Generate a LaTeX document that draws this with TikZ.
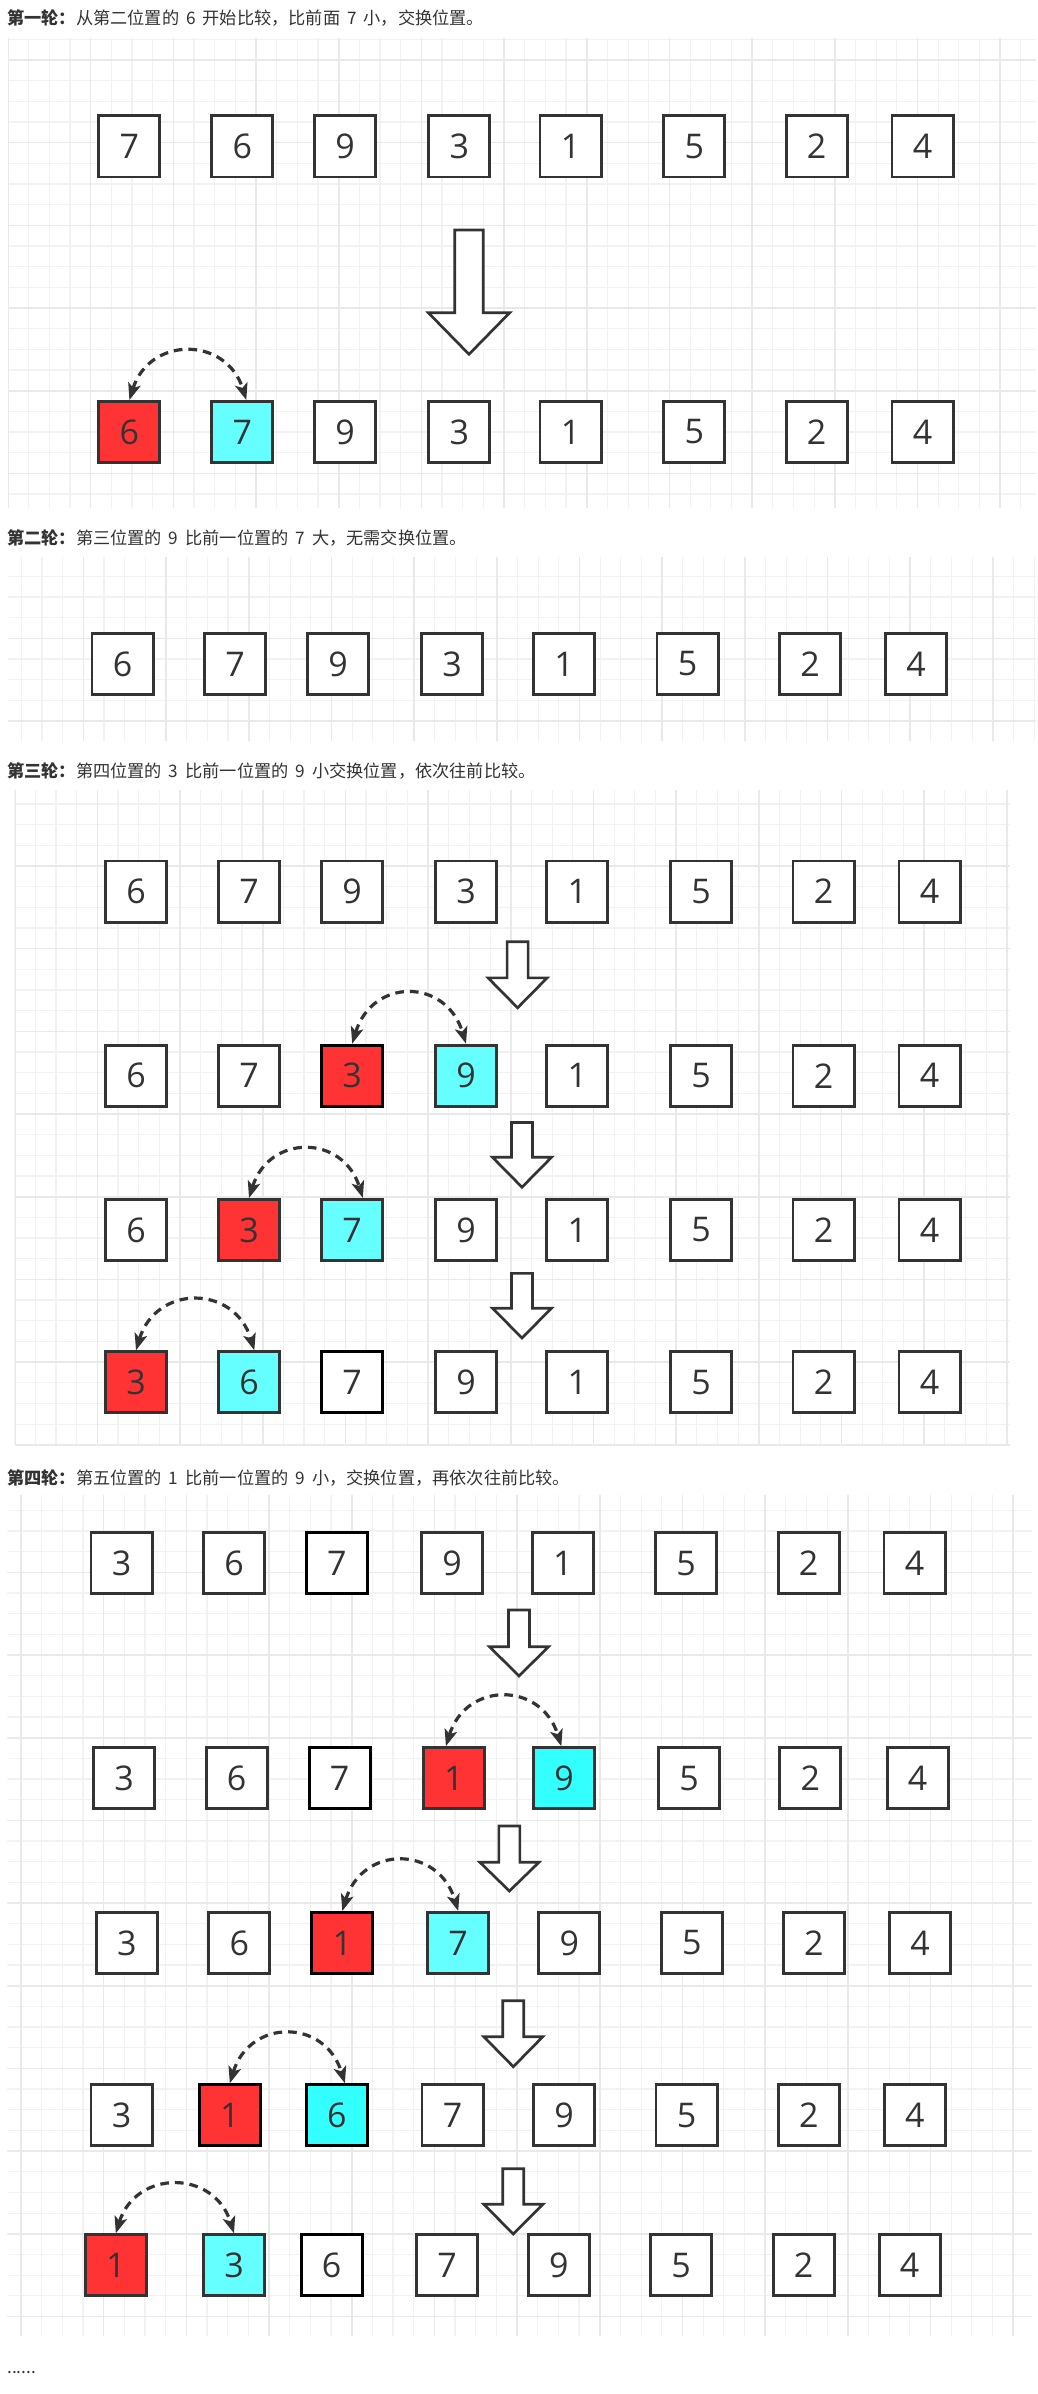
\documentclass[tikz,border=0pt]{standalone}
\usepackage{fontspec}
\setmainfont{Noto Sans CJK SC}
\newfontfamily\digitfont{Open Sans}
\usetikzlibrary{arrows.meta}
\definecolor{ink}{HTML}{333333}
\definecolor{boxred}{HTML}{FF3333}
\definecolor{boxcyan}{HTML}{66FFFF}
\definecolor{boxcyanb}{HTML}{33FFFF}
\definecolor{gridminor}{HTML}{F2F2F2}
\definecolor{gridmajor}{HTML}{E9E9E9}
\newcommand\gap{\hspace{5.2pt}}
% grid panel: x0 y0 x1 y1 major-x major-y
\newcommand\gridpanel[6]{%
  \begin{scope}
    \clip (#1,#2) rectangle (#3,#4);
    \foreach \k in {0,...,62}{
      \draw[gridminor, line width=0.9pt] ({#5-165.36+\k*20.67},#2) -- ({#5-165.36+\k*20.67},#4);
      \draw[gridminor, line width=0.9pt] (#1,{#6-165.36+\k*20.67}) -- (#3,{#6-165.36+\k*20.67});
    }
    \foreach \k in {0,...,15}{
      \draw[gridmajor, line width=1.2pt] ({#5-165.36+\k*82.68},#2) -- ({#5-165.36+\k*82.68},#4);
      \draw[gridmajor, line width=1.2pt] (#1,{#6-165.36+\k*82.68}) -- (#3,{#6-165.36+\k*82.68});
    }
  \end{scope}}
% block arrow: x top neck tip shafthalf headhalf
\newcommand\blockarrow[6]{%
  \draw[bigarrow] ({#1-#5},#2) -- ({#1+#5},#2) -- ({#1+#5},#3) -- ({#1+#6},#3)
    -- (#1,#4) -- ({#1-#6},#3) -- ({#1-#5},#3) -- cycle;}
\tikzset{
  box/.style={draw=ink, line width=2.2pt, minimum width=45.8pt, minimum height=45.8pt,
    inner sep=0pt, fill=white, text=ink, font=\digitfont\fontsize{25.5pt}{26pt}\selectfont},
  plain/.style={},
  hot/.style={fill=boxred},
  cool/.style={fill=boxcyan},
  coolb/.style={fill=boxcyanb},
  dark/.style={draw=black},
  hotdark/.style={fill=boxred, draw=black},
  cooldark/.style={fill=boxcyanb, draw=black},
  swaparc/.style={draw=ink, line width=2.4pt, dash pattern=on 6.5pt off 4.5pt,
    {Stealth[length=12.5pt,width=9.5pt,inset=3pt]}-{Stealth[length=12.5pt,width=9.5pt,inset=3pt]}},
  bigarrow/.style={draw=ink, line width=2pt, fill=white, line join=miter},
  title/.style={font=\fontsize{12.9pt}{15pt}\selectfont, text=ink, inner sep=0pt, anchor=west},
}
\begin{document}
\begin{tikzpicture}[x=0.75pt, y=-0.75pt]
\useasboundingbox[fill=white] (0,0) rectangle (1038,2394);

% ---------- grids ----------
\gridpanel{8}{38}{1036}{508}{8}{60}
\gridpanel{8}{556.7}{1036}{740.7}{83.4}{721}
\gridpanel{14.6}{790}{1010}{1445}{14.7}{866}
\gridpanel{7.3}{1495}{1032}{2336}{21}{1655}

% ---------- titles ----------
\node[title] (t1) at (7,18) {\textbf{第一轮：}从第二位置的\gap 6\gap 开始比较，比前面\gap 7\gap 小，交换位置。};
\node[title] (t2) at (7,538) {\textbf{第二轮：}第三位置的\gap 9\gap 比前一位置的\gap 7\gap 大，无需交换位置。};
\node[title] (t3) at (7,771) {\textbf{第三轮：}第四位置的\gap 3\gap 比前一位置的\gap 9\gap 小交换位置，依次往前比较。};
\node[title] (t4) at (7,1478) {\textbf{第四轮：}第五位置的\gap 1\gap 比前一位置的\gap 9\gap 小，交换位置，再依次往前比较。};
\node[title] (dots) at (7,2372) {......};

% ---------- section 1 ----------
\foreach \x/\v/\s [count=\i] in {129.4/7/plain,242.3/6/plain,345/9/plain,459.4/3/plain,570.5/1/plain,694.4/5/plain,816.6/2/plain,922.5/4/plain}
  \node[box,\s] (s1r1-\i) at (\x,146.5) {\v};
\blockarrow{469}{230}{312.7}{354.3}{14.2}{40.7}
\foreach \x/\v/\s [count=\i] in {129.4/6/hot,242.3/7/cool,345/9/plain,459.4/3/plain,570.5/1/plain,694.4/5/plain,816.6/2/plain,922.5/4/plain}
  \node[box,\s] (s1r2-\i) at (\x,432) {\v};
\draw[swaparc] (s1r2-1.north) .. controls +(20,-64) and +(-20,-64) .. ([xshift=3pt]s1r2-2.north);

% ---------- section 2 ----------
\foreach \x/\v/\s [count=\i] in {122.5/6/plain,235/7/plain,338/9/plain,452.2/3/plain,564/1/plain,687.5/5/plain,810/2/plain,916/4/plain}
  \node[box,\s] (s2r1-\i) at (\x,664) {\v};

% ---------- section 3 ----------
\foreach \x/\v/\s [count=\i] in {136/6/plain,249/7/plain,352.2/9/plain,466/3/plain,577.3/1/plain,701/5/plain,823.5/2/plain,929.5/4/plain}
  \node[box,\s] (s3r1-\i) at (\x,891.5) {\v};
\blockarrow{517.6}{941.7}{977.9}{1007.8}{10.5}{29.5}
\foreach \x/\v/\s [count=\i] in {136/6/plain,249/7/plain,352.2/3/hotdark,466/9/cool,577.3/1/plain,701/5/plain,823.5/2/plain,929.5/4/plain}
  \node[box,\s] (s3r2-\i) at (\x,1075.7) {\v};
\draw[swaparc] (s3r2-3.north) .. controls +(20,-66) and +(-20,-66) .. (s3r2-4.north);
\blockarrow{522}{1122.5}{1157.3}{1187.2}{10.5}{29.5}
\foreach \x/\v/\s [count=\i] in {136/6/plain,249/3/hot,352.2/7/cool,466/9/plain,577.3/1/plain,701/5/plain,823.5/2/plain,929.5/4/plain}
  \node[box,\s] (s3r3-\i) at (\x,1230) {\v};
\draw[swaparc] (s3r3-2.north) .. controls +(20,-64) and +(-20,-64) .. ([xshift=8pt]s3r3-3.north);
\blockarrow{522}{1273.4}{1308.2}{1338}{10.5}{29.5}
\foreach \x/\v/\s [count=\i] in {136/3/hot,249/6/cool,352.2/7/dark,466/9/plain,577.3/1/plain,701/5/plain,823.5/2/plain,929.5/4/plain}
  \node[box,\s] (s3r4-\i) at (\x,1382.3) {\v};
\draw[swaparc] (s3r4-1.north) .. controls +(20,-66) and +(-20,-66) .. ([xshift=4pt]s3r4-2.north);

% ---------- section 4 ----------
\foreach \x/\v/\s [count=\i] in {121.5/3/plain,234/6/plain,336.9/7/dark,452.2/9/plain,562.8/1/plain,686.2/5/plain,808.6/2/plain,914.5/4/plain}
  \node[box,\s] (s4r1-\i) at (\x,1563.4) {\v};
\blockarrow{519}{1610}{1646.7}{1676}{10.5}{29.5}
\foreach \x/\v/\s [count=\i] in {124/3/plain,236.7/6/plain,339.6/7/dark,453.9/1/hot,564/9/coolb,689.2/5/plain,810.3/2/plain,917.6/4/plain}
  \node[box,\s] (s4r2-\i) at (\x,1778.2) {\v};
\draw[swaparc] ([xshift=-6pt]s4r2-4.north) .. controls +(20,-65) and +(-20,-65) .. ([xshift=-2pt]s4r2-5.north);
\blockarrow{509.4}{1826}{1862.3}{1891}{10.5}{29.5}
\foreach \x/\v/\s [count=\i] in {126.8/3/plain,239.3/6/plain,342.3/1/hotdark,458.2/7/cool,569.3/9/plain,691.8/5/plain,813.9/2/plain,920.2/4/plain}
  \node[box,\s] (s4r3-\i) at (\x,1943) {\v};
\draw[swaparc] (s4r3-3.north) .. controls +(20,-66) and +(-20,-66) .. (s4r3-4.north);
\blockarrow{513.3}{2000.7}{2036.7}{2066.7}{10.5}{29.5}
\foreach \x/\v/\s [count=\i] in {121.5/3/plain,229.8/1/hotdark,336.9/6/cooldark,452.5/7/plain,564/9/plain,686.5/5/plain,808.9/2/plain,914.9/4/plain}
  \node[box,\s] (s4r4-\i) at (\x,2115.3) {\v};
\draw[swaparc] (s4r4-2.north) .. controls +(20,-65) and +(-20,-65) .. ([xshift=6pt]s4r4-3.north);
\blockarrow{513.3}{2168.7}{2204.3}{2234}{10.5}{29.5}
\foreach \x/\v/\s [count=\i] in {115.8/1/hot,234/3/cool,331.7/6/dark,447.2/7/plain,558.8/9/plain,681.2/5/plain,803.7/2/plain,909.6/4/plain}
  \node[box,\s] (s4r5-\i) at (\x,2265.3) {\v};
\draw[swaparc] (s4r5-1.north) .. controls +(20,-64) and +(-20,-64) .. (s4r5-2.north);
\end{tikzpicture}
\end{document}
